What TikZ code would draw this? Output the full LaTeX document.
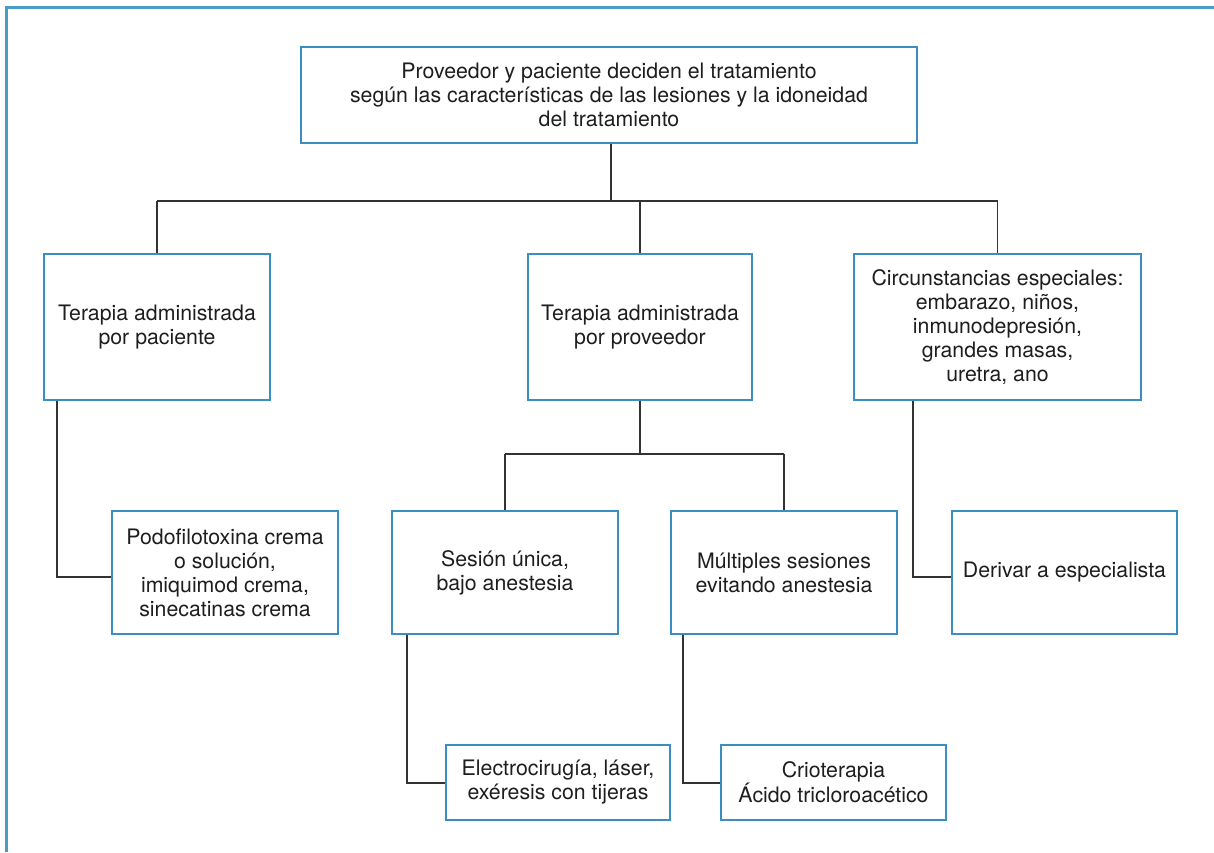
\documentclass[tikz,border=0pt]{standalone}
\usepackage{fontspec}
\setmainfont{TeX Gyre Heros}
\definecolor{framec}{HTML}{4A9CC8}
\definecolor{boxc}{HTML}{3A8EC0}
\definecolor{linec}{HTML}{333333}
\definecolor{txtc}{HTML}{1E1E1E}
\begin{document}
\begin{tikzpicture}[x=1pt,y=-1pt,
  box/.style={draw=boxc, line width=1.4pt, align=center, inner sep=0pt,
    text=txtc, font=\fontsize{21.3}{24}\selectfont},
  conn/.style={draw=linec, line width=1.4pt}]
\useasboundingbox (0,0) rectangle (1214,852);
\fill[white] (0,0) rectangle (1214,852);
% frame
\draw[framec, line width=2.2pt] (6.5,852) -- (6.5,7.5) -- (1214,7.5);
% boxes
\node[box, minimum width=616pt, minimum height=96pt] (top) at (609,95)
  {Proveedor y paciente deciden el tratamiento\\según las características de las lesiones y la idoneidad\\del tratamiento};
\node[box, minimum width=226pt, minimum height=146pt] (pac) at (157,327)
  {Terapia administrada\\por paciente};
\node[box, minimum width=224pt, minimum height=146pt] (prov) at (640,327)
  {Terapia administrada\\por proveedor};
\node[box, minimum width=287pt, minimum height=146pt] (esp) at (997.5,327)
  {Circunstancias especiales:\\embarazo, niños,\\inmunodepresión,\\grandes masas,\\uretra, ano};
\node[box, minimum width=226pt, minimum height=123pt] (podo) at (225,572.5)
  {Podofilotoxina crema\\o solución,\\imiquimod crema,\\sinecatinas crema};
\node[box, minimum width=226pt, minimum height=123pt] (ses) at (505,572.5)
  {Sesión única,\\bajo anestesia};
\node[box, minimum width=226pt, minimum height=123pt] (mult) at (784,572.5)
  {Múltiples sesiones\\evitando anestesia};
\node[box, minimum width=225pt, minimum height=123pt] (der) at (1064.5,572.5)
  {Derivar a especialista};
\node[box, minimum width=224pt, minimum height=75pt] (elec) at (558,782.5)
  {Electrocirugía, láser,\\exéresis con tijeras};
\node[box, minimum width=225pt, minimum height=75pt] (crio) at (833.5,782.5)
  {Crioterapia\\Ácido tricloroacético};
% bus coordinates
\coordinate (bus1) at (611,201);
\coordinate (bus2) at (640,454);
\coordinate (kpac) at (57,577);
\coordinate (kesp) at (913,577);
\coordinate (kses) at (407,783);
\coordinate (kmult) at (683,783);
% connectors
\draw[conn] (top.south -| bus1) -- (bus1);
\draw[conn] (pac.north |- bus1) -- (esp.north |- bus1);
\draw[conn] (pac.north |- bus1) -- (pac.north);
\draw[conn] (prov.north |- bus1) -- (prov.north);
\draw[conn] (esp.north |- bus1) -- (esp.north);
\draw[conn] (prov.south) -- (bus2);
\draw[conn] (ses.north |- bus2) -- (mult.north |- bus2);
\draw[conn] (ses.north |- bus2) -- (ses.north);
\draw[conn] (mult.north |- bus2) -- (mult.north);
\draw[conn] (pac.south -| kpac) -- (kpac) -- (kpac -| podo.west);
\draw[conn] (esp.south -| kesp) -- (kesp) -- (kesp -| der.west);
\draw[conn] (ses.south -| kses) -- (kses) -- (kses -| elec.west);
\draw[conn] (mult.south -| kmult) -- (kmult) -- (kmult -| crio.west);
\end{tikzpicture}
\end{document}
